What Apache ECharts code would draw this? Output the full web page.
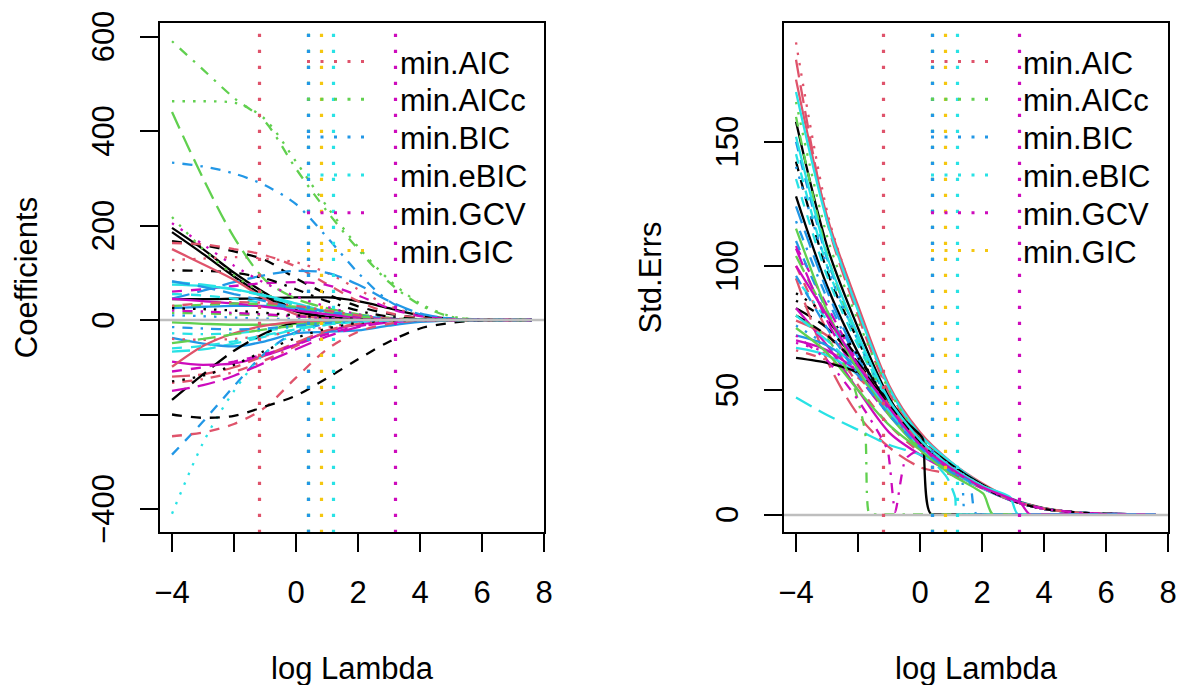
<!DOCTYPE html>
<html>
<head>
<meta charset="utf-8">
<script src="https://cdn.jsdelivr.net/npm/echarts@6/dist/echarts.min.js"></script>
<style>
html,body{margin:0;padding:0;background:#fff;}
#chart{width:1181px;height:685px;}
</style>
</head>
<body>
<div id="chart"></div>
<script>
// ---------- DATA ----------
const logLambda = [-4, -3, -2, -1, 0, 1, 2, 3, 4, 5, 6, 7.6];

// Coefficient paths (left panel), values at logLambda
const coefPaths = [
  [195,150,100,57,21,7,2,0.5,0,0,0,0],
  [186,140,92,50,18,6,1.5,0.5,0,0,0,0],
  [44,44,45,46,48,48,40,25,10,3,0.5,0],
  [167,158,145,127,88,55,29,13,5,1,0,0],
  [163,160,150,137,113,76,40,15,4,1,0,0],
  [127,130,133,130,122,100,65,30,10,2,0,0],
  [463,463,460,425,335,240,155,85,35,8,1,0],
  [590,530,470,420,320,230,150,80,32,7,1,0],
  [440,300,175,85,45,25,12,5,2,0.5,0,0],
  [333,325,310,285,245,175,100,40,12,3,0.5,0],
  [45,62,80,95,104,100,75,40,14,3,0.5,0],
  [60,65,72,78,80,74,52,25,8,2,0,0],
  [105,104,100,88,65,40,20,7,2,0.5,0,0],
  [150,118,85,45,12,3,0.5,0,0,0,0,0],
  [218,150,95,55,30,15,6,2,0.5,0,0,0],
  [205,160,115,78,50,28,12,4,1,0,0,0],
  [75,72,65,52,35,18,7,2,0.5,0,0,0],
  [55,52,45,35,22,12,5,1.5,0.5,0,0,0],
  [80,75,65,50,32,17,7,2,0.5,0,0,0],
  [82,70,55,40,25,14,6,2,0.5,0,0,0],
  [25,28,30,30,26,18,9,3,1,0,0,0],
  [45,40,35,28,20,12,5,1.5,0.5,0,0,0],
  [30,32,35,33,28,18,8,3,1,0,0,0],
  [30,35,38,36,30,20,10,3,1,0,0,0],
  [15,14,12,10,7,4,2,0.5,0,0,0,0],
  [20,18,15,12,8,4,1.5,0.5,0,0,0,0],
  [25,23,20,15,10,5,2,0.5,0,0,0,0],
  [10,8,5,3,2,1,0,0,0,0,0,0],
  [-5,-8,-10,-10,-8,-5,-2,-1,0,0,0,0],
  [-28,-30,-28,-22,-15,-8,-3,-1,0,0,0,0],
  [-67,-62,-50,-35,-20,-8,-3,-1,0,0,0,0],
  [-88,-95,-92,-75,-52,-25,-10,-3,-1,0,0,0],
  [-133,-125,-110,-85,-55,-25,-8,-2,0,0,0,0],
  [-38,-50,-56,-45,-28,-25,-22,-12,-4,-1,0,0],
  [-120,-115,-100,-75,-48,-22,-8,-2,0,0,0,0],
  [-285,-215,-140,-70,-25,-8,-2,0,0,0,0,0],
  [-410,-260,-150,-70,-28,-10,-3,-1,0,0,0,0],
  [-169,-115,-65,-28,-5,0,0,0,0,0,0,0],
  [-99,-55,-28,-12,-4,-1,0,0,0,0,0,0],
  [-150,-138,-118,-90,-62,-35,-15,-5,-1,0,0,0],
  [-246,-238,-220,-185,-122,-62,-25,-8,-1,0,0,0],
  [-200,-207,-203,-183,-160,-123,-83,-46,-18,-6,-1,0],
  [-40,-42,-40,-33,-25,-15,-6,-2,0,0,0,0],
  [-109,-100,-88,-72,-52,-30,-13,-4,-1,0,0,0],
  [-130,-118,-95,-65,-38,-18,-6,-2,0,0,0,0],
  [-49,-40,-30,-20,-12,-6,-2,-0.5,0,0,0,0],
  [-60,-55,-45,-32,-20,-10,-4,-1,0,0,0,0],
  [-15,-18,-20,-18,-12,-6,-2,-0.5,0,0,0,0]
];

// Standard-error paths (right panel), values at logLambda
const sePaths = [
  [190,122,83,50,31,20,12,6,2.5,0.8,0.2,0],
  [183,118,80,49,31,20,12,6,2.5,0.8,0.2,0],
  [175,120,84,52,33,21,12.5,6,2.5,0.8,0.2,0],
  [170,118,82,51,32,21,12,6,2.4,0.8,0.2,0],
  [166,112,78,50,31,20,12,5.8,2.4,0.8,0.2,0],
  [158,108,75,47,30,20,12,5.8,2.4,0.8,0.2,0],
  [150,103,72,46,30,19,11.5,5.6,2.3,0.8,0.2,0],
  [142,98,70,46,29,19,11.5,5.6,2.3,0.8,0.2,0],
  [135,96,68,45,29,19,11,5.5,2.3,0.8,0.2,0],
  [128,92,65,44,29,19,11,5.5,2.3,0.8,0.2,0],
  [124,90,63,43,28,18.5,11,5.5,2.3,0.8,0.2,0],
  [118,87,62,43,28,18,11,5.4,2.2,0.8,0.2,0],
  [108,84,61,43,28,18,11,5.4,2.2,0.8,0.2,0],
  [104,80,58,41,27,18,11,5.4,2.2,0.8,0.2,0],
  [100,74,52,36,25,17.5,11,5.4,2.2,0.8,0.2,0],
  [95,78,59,42,27,18,11,5.4,2.2,0.8,0.2,0],
  [89,80,64,45,29,19,11,5.4,2.2,0.8,0.2,0],
  [86,78,63,45,29,19,11,5.4,2.2,0.8,0.2,0],
  [83,75,61,44,28,18,11,5.4,2.2,0.8,0.2,0],
  [95,62,40,27,19,16,10.5,5.3,2.2,0.8,0.2,0],
  [83,68,50,33,24,17,10.5,5.3,2.2,0.8,0.2,0],
  [70,66,57,42,28,18,11,5.4,2.2,0.8,0.2,0],
  [67,64,56,41,28,18,11,5.4,2.2,0.8,0.2,0],
  [72,68,59,43,29,19,11,5.4,2.2,0.8,0.2,0],
  [47,40,34,28,24,17,10.5,5.3,2.2,0.8,0.2,0],
  [69,65,57,42,28,18,11,5.4,2.2,0.8,0.2,0],
  [66,62,55,42,28,18,11,5.4,2.2,0.8,0.2,0],
  [75,65,50,36,26,17.5,11,5.4,2.2,0.8,0.2,0],
  [110,82,60,42,28,18,11,5.4,2.2,0.8,0.2,0],
  [160,105,70,45,29,19,11.5,5.6,2.3,0.8,0.2,0],
  [145,100,70,45,29,19,11.5,5.6,2.3,0.8,0.2,0],
  [107,78,56,40,27,18,11,5.4,2.2,0.8,0.2,0],
  [140,100,70,46,30,19.5,11.5,5.6,2.3,0.8,0.2,0],
  [78,72,60,44,29,19,11.5,5.6,2.3,0.8,0.2,0],
  [80,72,60,44,29,19,11,5.4,2.2,0.8,0.2,0]
];

// Standard-error paths that fall to zero, as [logLambda, value] points
const seDropPaths = [
  [[-4,63],[-3,61],[-2,57],[-1,46],[-0.5,38],[0,32],[0.1,30],[0.39,0],[7.6,0]],
  [[-4,80],[-3,71],[-2.2,54],[-1.77,33],[-1.62,0],[7.6,0]],
  [[-4,72],[-3,62],[-2,46],[-1.3,32],[-1.03,25],[-0.8,1],[-0.48,22],[0,26],[1,18],[2,11],[3,5.4],[4,2.2],[5,0.8],[6,0.2],[7.6,0]],
  [[-4,76],[-3,68],[-2,57],[-1,42],[0,28],[1,18],[1.35,14],[1.5,0],[7.6,0]],
  [[-4,80],[-3,70],[-2,58],[-1,42],[0,27],[0.86,15],[1.13,7],[1.2,0],[7.6,0]],
  [[-4,115],[-3,82],[-2,58],[-1,40],[0,26],[1,16],[2.04,8.3],[2.37,0],[7.6,0]],
  [[-4,152],[-3,104],[-2,72],[-1,46],[0,30],[1,19],[2,11.5],[2.9,7],[3.17,0],[7.6,0]],
  [[-4,100],[-3,80],[-2,60],[-1,43],[0,28],[1,18.5],[2,11],[3.23,4.6],[3.55,0],[7.6,0]],
  [[-4,96],[-3,75],[-2,56],[-1,40],[0,27],[1,17],[1.6,13],[1.85,0],[7.6,0]]
];

// Selected log(lambda) by each criterion
const criteria = ['min.AIC', 'min.AICc', 'min.BIC', 'min.eBIC', 'min.GCV', 'min.GIC'];
const criteriaLogLambda = [-1.18, 0.41, 0.41, 1.21, 3.19, 0.81];

// Tick values
const xTicks = [-4, -2, 0, 2, 4, 6, 8];
const xTickLabels = [-4, 0, 2, 4, 6, 8];
const coefTicks = [-400, -200, 0, 200, 400, 600];
const coefTickLabels = [-400, 0, 200, 400, 600];
const seTicks = [0, 50, 100, 150];
const seTickLabels = [0, 50, 100, 150];

// ---------- STYLES (separate from data) ----------
const coefStyle = ['k1','k1','k1','k2','r2','r3','g3','g4','g5','b4','b5','m2','k4','r1','g3','m3',
  'c1','c2','c5','b5','b1','m1','g2','r4','g4','m4','k3','b3','g1','c4','c5','m1','r4','b1','r5',
  'b2','c3','k5','r1','m5','r2','k2','r3','m2','k3','g5','c2','b4'];
const seStyle = ['r3','r5','r1','c1','g3','k1','b2','k2','c2','k1','b5','b4','m2','g5','r2','c4',
  'k3','k4','k5','r5','m1','m1','c1','b1','c5','m3','r4','g1','b2','g2','c2','m5','b3','r1','k2'];
const seDropStyle = ['k1','g4','m4','b3','c5','g1','c1','m1','b2'];
const critColors = ['#DF536B', '#61D04F', '#2297E6', '#28E2E5', '#CD0BBC', '#F5C710'];

const COL = {k:'#000000', r:'#DF536B', g:'#61D04F', b:'#2297E6', c:'#28E2E5', m:'#CD0BBC'};
const DASH = {'1':'solid', '2':[10,9], '3':[2.5,8], '4':[2.5,8,10,8], '5':[18,8]};
const FONT = 'Liberation Sans, Arial, Helvetica, sans-serif';
const FS = 31;
const XMIN = -4.42, XMAX = 8.03;
const GRIDS = [{left:159, top:22, width:386, height:511}, {left:783, top:22, width:386, height:511}];

function fmt(v){ return v < 0 ? '\u2212' + Math.abs(v) : String(v); }

function pathSeries(points, code, idx){
  return {
    type:'line', xAxisIndex:idx, yAxisIndex:idx, data:points,
    symbol:'none', showSymbol:false, smooth:0.3, silent:true, animation:false,
    lineStyle:{color:COL[code[0]], width:2.3, type:DASH[code[1]]}, z:2
  };
}

const series = [];
coefPaths.forEach((vals,i)=>{
  series.push(pathSeries(logLambda.map((x,j)=>[x, vals[j]]), coefStyle[i], 0));
});
sePaths.forEach((vals,i)=>{
  series.push(pathSeries(logLambda.map((x,j)=>[x, vals[j]]), seStyle[i], 1));
});
seDropPaths.forEach((pts,i)=>{
  const s = pathSeries(pts, seDropStyle[i], 1);
  s.smooth = 0.2;
  series.push(s);
});

// zero reference lines
[0,1].forEach(idx=>{
  series.push({
    type:'line', xAxisIndex:idx, yAxisIndex:idx, data:[], silent:true, z:3,
    markLine:{silent:true, symbol:['none','none'], label:{show:false}, animation:false,
      lineStyle:{color:'#BEBEBE', width:2.3, type:'solid'}, data:[{yAxis:0}]}
  });
});

// criterion cut-off lines
[0,1].forEach(idx=>{
  criteria.forEach((c,k)=>{
    series.push({
      name:c, type:'line', xAxisIndex:idx, yAxisIndex:idx, data:[], silent:true, z:4,
      markLine:{silent:true, symbol:['none','none'], label:{show:false}, animation:false,
        lineStyle:{color:critColors[k], width:3.2, type:[3.2,12.8]},
        data:[{xAxis:criteriaLogLambda[k]}]}
    });
  });
});

const AXLINE = {show:true, onZero:false, lineStyle:{color:'#000', width:2}};

function xAxisCfg(idx, name){
  return {
    type:'value', gridIndex:idx, min:XMIN, max:XMAX, position:'bottom',
    name:name, nameLocation:'middle', nameGap:120,
    nameTextStyle:{fontFamily:FONT, fontSize:FS, color:'#000'},
    axisLine:AXLINE,
    axisTick:{show:true, inside:false, length:19, customValues:xTicks, lineStyle:{color:'#000', width:2}},
    axisLabel:{show:true, customValues:xTickLabels, formatter:fmt, margin:44,
      fontFamily:FONT, fontSize:FS, color:'#000'},
    splitLine:{show:false}
  };
}
function yAxisCfg(idx, name, min, max, ticks, labels){
  return {
    type:'value', gridIndex:idx, min:min, max:max, position:'left',
    name:name, nameLocation:'middle', nameGap:117, nameRotate:90,
    nameTextStyle:{fontFamily:FONT, fontSize:FS, color:'#000'},
    axisLine:AXLINE,
    axisTick:{show:true, inside:false, length:19, customValues:ticks, lineStyle:{color:'#000', width:2}},
    axisLabel:{show:true, customValues:labels, formatter:fmt, rotate:90, margin:40,
      fontFamily:FONT, fontSize:FS, color:'#000'},
    splitLine:{show:false}
  };
}

// plot frames + legends drawn as graphic elements
const graphics = [];
GRIDS.forEach(g=>{
  graphics.push({type:'rect', silent:true, z:20,
    shape:{x:g.left, y:g.top, width:g.width, height:g.height},
    style:{fill:'none', stroke:'#000', lineWidth:2}});
});
[[307, 400], [931, 1023]].forEach(([lx, tx])=>{
  criteria.forEach((c,k)=>{
    const ty = 63 + 37.8*k;
    graphics.push({type:'line', silent:true, z:10,
      shape:{x1:lx, y1:ty-1.5, x2:lx+57, y2:ty-1.5},
      style:{stroke:critColors[k], lineWidth:3, lineDash:[3,10.5]}});
    graphics.push({type:'text', silent:true, z:10, x:tx, y:ty,
      style:{text:c, fill:'#000', font:FS+'px '+FONT, verticalAlign:'middle', align:'left'}});
  });
});

const option = {
  animation:false,
  backgroundColor:'#ffffff',
  grid:GRIDS.map(g=>Object.assign({containLabel:false, outerBoundsMode:'none'}, g)),
  xAxis:[xAxisCfg(0,'log Lambda'), xAxisCfg(1,'log Lambda')],
  yAxis:[
    yAxisCfg(0,'Coefficients',-450.8,630.7,coefTicks,coefTickLabels),
    yAxisCfg(1,'Std.Errs',-7.53,198.2,seTicks,seTickLabels)
  ],
  series:series,
  graphic:graphics
};

const chart = echarts.init(document.getElementById('chart'), null, {renderer:'svg'});
chart.setOption(option);
</script>
</body>
</html>
